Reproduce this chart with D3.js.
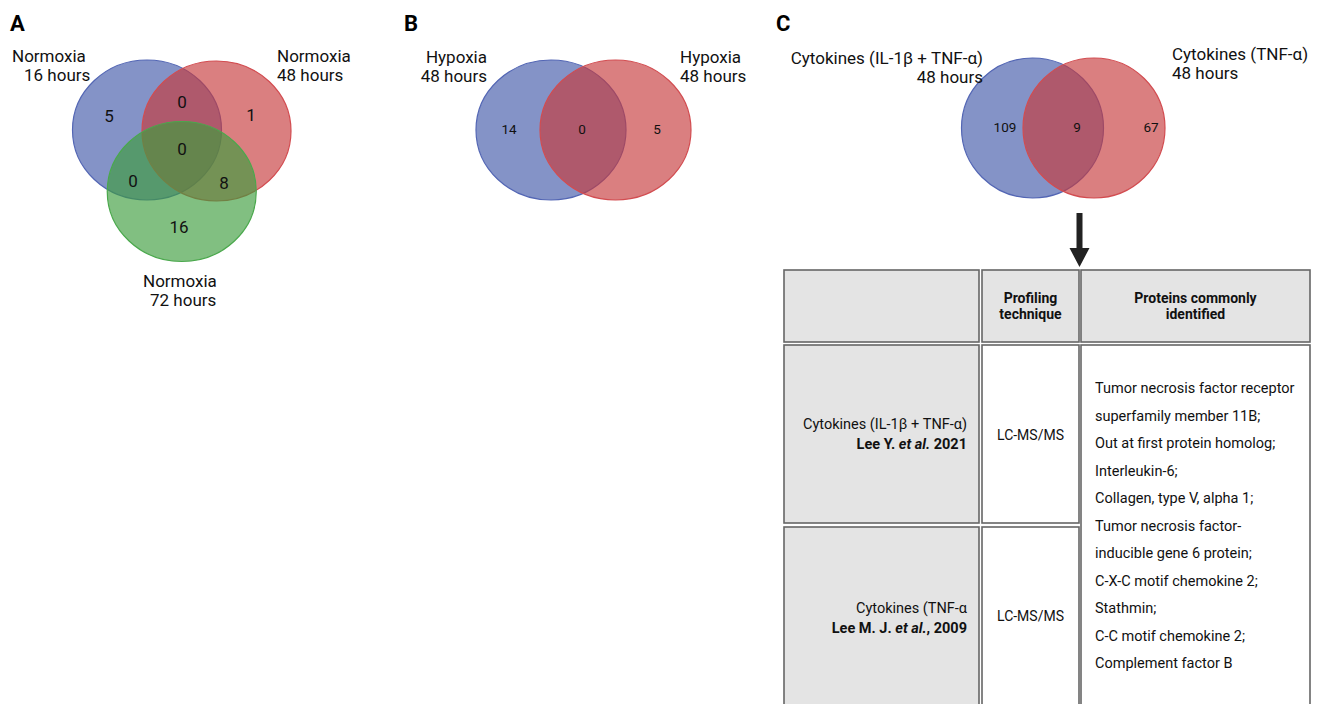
<!DOCTYPE html>
<html>
<head>
<meta charset="utf-8">
<script src="https://cdn.jsdelivr.net/npm/d3@7"></script>
<style>
  html, body { margin: 0; padding: 0; background: #fff; }
  svg { display: block; font-family: Roboto, "Noto Sans", sans-serif; }
</style>
</head>
<body>
<svg id="chart" width="1319" height="704"></svg>
<script>
// ---------------- DATA ----------------
const panelLetters = ["A", "B", "C"];

// Panel A: three-set Venn (Normoxia time points)
const setsA = [["Normoxia", "16 hours"], ["Normoxia", "48 hours"], ["Normoxia", "72 hours"]];
const regionsA = ["16h only", "16h∩48h", "48h only", "all", "16h∩72h", "48h∩72h", "72h only"];
const countsA = [5, 0, 1, 0, 0, 8, 16];

// Panel B: two-set Venn (Hypoxia)
const setsB = [["Hypoxia", "48 hours"], ["Hypoxia", "48 hours"]];
const regionsB = ["left only", "both", "right only"];
const countsB = [14, 0, 5];

// Panel C: two-set Venn (Cytokines)
const setsC = [["Cytokines (IL-1β + TNF-α)", "48 hours"], ["Cytokines (TNF-α)", "48 hours"]];
const regionsC = ["left only", "both", "right only"];
const countsC = [109, 9, 67];

// Table
const tableHeaders = ["", "Profiling technique", "Proteins commonly identified"];
const studyConditions = ["Cytokines (IL-1β + TNF-α)", "Cytokines (TNF-α"];
const studyAuthors = [["Lee Y. ", "et al.", " 2021"], ["Lee M. J. ", "et al.", ", 2009"]];
const techniques = ["LC-MS/MS", "LC-MS/MS"];
const proteinLines = [
  "Tumor necrosis factor receptor",
  "superfamily member 11B;",
  "Out at first protein homolog;",
  "Interleukin-6;",
  "Collagen, type V, alpha 1;",
  "Tumor necrosis factor-",
  "inducible gene 6 protein;",
  "C-X-C motif chemokine 2;",
  "Stathmin;",
  "C-C motif chemokine 2;",
  "Complement factor B"
];

// ---------------- DRAW ----------------
const svg = d3.select("#chart");
const BLUE = "rgb(66,89,169)", RED = "rgb(198,58,60)", GREEN = "rgb(62,156,62)";
const STROKE = {blue: "#5366b4", red: "#d24c50", green: "#4aa84c"};
const ALPHA = 0.65;

// Panel letters
svg.selectAll("text.letter").data(panelLetters).join("text")
  .attr("class", "letter")
  .attr("x", (d, i) => [10, 404, 776][i])
  .attr("y", 31)
  .attr("font-size", 22).attr("font-weight", 700).attr("fill", "#000")
  .text(d => d);

function drawEllipses(g, circles) {
  g.selectAll("ellipse").data(circles).join("ellipse")
    .attr("cx", d => d.cx).attr("cy", d => d.cy)
    .attr("rx", d => d.rx).attr("ry", d => d.ry)
    .attr("fill", d => d.fill).attr("fill-opacity", ALPHA)
    .attr("stroke", d => d.stroke).attr("stroke-width", 1.2);
}

function drawLabels(g, cls, items) {
  g.selectAll("text." + cls).data(items).join("text")
    .attr("class", cls)
    .attr("x", d => d.x).attr("y", d => d.y)
    .attr("text-anchor", d => d.anchor || "start")
    .attr("font-size", d => d.size).attr("fill", "#111")
    .text(d => d.t);
}

// ---- Panel A ----
const gA = svg.append("g");
const xA = d3.scaleLinear().domain([0, 1]).range([147, 216.5]);
drawEllipses(gA, [
  {cx: xA(0), cy: 130, rx: 74.5, ry: 70, fill: BLUE, stroke: STROKE.blue},
  {cx: xA(1), cy: 131, rx: 74.5, ry: 70, fill: RED, stroke: STROKE.red},
  {cx: xA(0.5), cy: 191.5, rx: 74.5, ry: 70, fill: GREEN, stroke: STROKE.green}
]);
const posA = [[109, 116], [182, 102], [251, 115], [182, 149], [133, 181], [224, 183], [179, 227]];
drawLabels(gA, "count", countsA.map((c, i) => ({x: posA[i][0], y: posA[i][1] + 6, t: String(c), anchor: "middle", size: 17})));
drawLabels(gA, "setlab", [
  {x: 12, y: 62, t: setsA[0][0], size: 17}, {x: 24, y: 81, t: setsA[0][1], size: 17},
  {x: 277, y: 62, t: setsA[1][0], size: 17}, {x: 277, y: 81, t: setsA[1][1], size: 17},
  {x: 143, y: 287, t: setsA[2][0], size: 17}, {x: 150, y: 306, t: setsA[2][1], size: 17}
]);

// ---- Panel B ----
const gB = svg.append("g");
const xB = d3.scaleLinear().domain([0, 1]).range([551, 615.5]);
drawEllipses(gB, [
  {cx: xB(0), cy: 130, rx: 75, ry: 70, fill: BLUE, stroke: STROKE.blue},
  {cx: xB(1), cy: 130, rx: 75.5, ry: 70, fill: RED, stroke: STROKE.red}
]);
const posB = [509, 582, 657];
drawLabels(gB, "count", countsB.map((c, i) => ({x: posB[i], y: 134, t: String(c), anchor: "middle", size: 13.5})));
drawLabels(gB, "setlab", [
  {x: 487, y: 63, t: setsB[0][0], anchor: "end", size: 17}, {x: 487, y: 82, t: setsB[0][1], anchor: "end", size: 17},
  {x: 680, y: 63, t: setsB[1][0], size: 17}, {x: 680, y: 82, t: setsB[1][1], size: 17}
]);

// ---- Panel C ----
const gC = svg.append("g");
const xC = d3.scaleLinear().domain([0, 1]).range([1032.5, 1094]);
drawEllipses(gC, [
  {cx: xC(0), cy: 128, rx: 71, ry: 70, fill: BLUE, stroke: STROKE.blue},
  {cx: xC(1), cy: 128, rx: 71, ry: 70, fill: RED, stroke: STROKE.red}
]);
const posC = [1005, 1077, 1151];
drawLabels(gC, "count", countsC.map((c, i) => ({x: posC[i], y: 132, t: String(c), anchor: "middle", size: 13.5})));
drawLabels(gC, "setlab", [
  {x: 983, y: 64, t: setsC[0][0], anchor: "end", size: 17}, {x: 983, y: 83, t: setsC[0][1], anchor: "end", size: 17},
  {x: 1172, y: 60, t: setsC[1][0], size: 17}, {x: 1172, y: 79, t: setsC[1][1], size: 17}
]);

// Arrow
svg.append("path")
  .attr("d", "M1076.5,213 L1082.5,213 L1082.5,248 L1089.5,248 L1079.5,267 L1069.5,248 L1076.5,248 Z")
  .attr("fill", "#222");

// ---- Table ----
const colX = [[784, 979], [982, 1079], [1081, 1310]];
const rowY = [[270, 342], [345, 523], [527, 712]];
const gT = svg.append("g");
const cells = [];
for (let c = 0; c < 3; c++) cells.push({c, r: 0, fill: "#e4e4e4"});
cells.push({c: 0, r: 1, fill: "#e4e4e4"}, {c: 1, r: 1, fill: "#fff"}, {c: 2, r: 1, r2: 2, fill: "#fff"});
cells.push({c: 0, r: 2, fill: "#e4e4e4"}, {c: 1, r: 2, fill: "#fff"});
gT.selectAll("rect").data(cells).join("rect")
  .attr("x", d => colX[d.c][0]).attr("y", d => rowY[d.r][0])
  .attr("width", d => colX[d.c][1] - colX[d.c][0])
  .attr("height", d => rowY[d.r2 !== undefined ? d.r2 : d.r][1] - rowY[d.r][0])
  .attr("fill", d => d.fill).attr("stroke", "#666").attr("stroke-width", 1.6);

// Header text
const hdrLines = [null, ["Profiling", "technique"], ["Proteins commonly", "identified"]];
hdrLines.forEach((lines, c) => {
  if (!lines) return;
  lines.forEach((l, k) => {
    gT.append("text").attr("x", (colX[c][0] + colX[c][1]) / 2).attr("y", 303 + k * 16)
      .attr("text-anchor", "middle").attr("font-size", 14).attr("font-weight", 700).attr("fill", "#111").text(l);
  });
});

// Row text
const condY = [429, 613];
const techY = [440, 621];
studyConditions.forEach((s, i) => {
  gT.append("text").attr("x", 967).attr("y", condY[i]).attr("text-anchor", "end")
    .attr("font-size", 14.5).attr("fill", "#111").text(s);
  const t = gT.append("text").attr("x", 967).attr("y", condY[i] + 20).attr("text-anchor", "end")
    .attr("font-size", 14.5).attr("font-weight", 700).attr("fill", "#111");
  t.append("tspan").text(studyAuthors[i][0]);
  t.append("tspan").attr("font-style", "italic").text(studyAuthors[i][1]);
  t.append("tspan").text(studyAuthors[i][2]);
  gT.append("text").attr("x", (colX[1][0] + colX[1][1]) / 2).attr("y", techY[i]).attr("text-anchor", "middle")
    .attr("font-size", 14).attr("fill", "#111").text(techniques[i]);
});

const lineY = d3.scaleLinear().domain([0, proteinLines.length - 1]).range([393, 668]);
gT.selectAll("text.prot").data(proteinLines).join("text")
  .attr("class", "prot")
  .attr("x", 1095).attr("y", (d, i) => lineY(i))
  .attr("font-size", 14.5).attr("fill", "#111").text(d => d);
</script>
</body>
</html>
